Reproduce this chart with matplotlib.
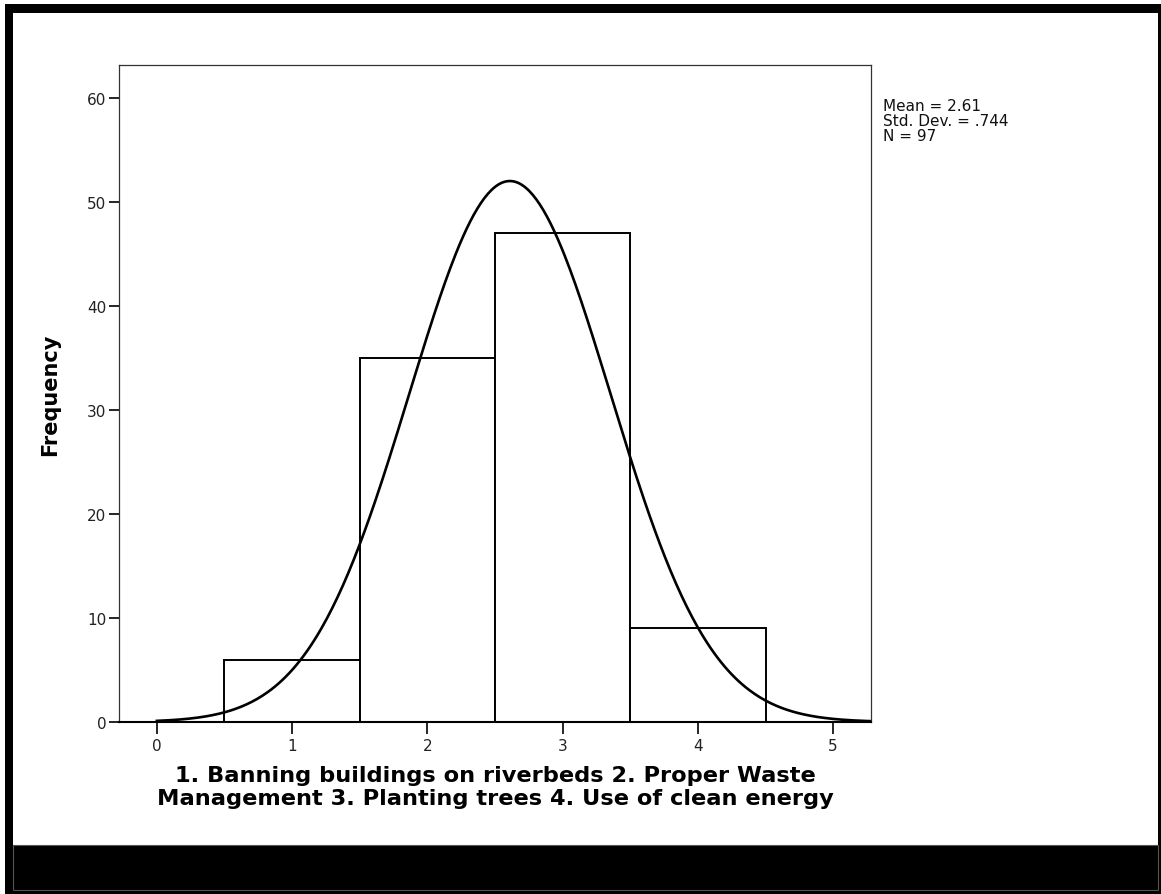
import matplotlib
matplotlib.use('Agg')
import matplotlib.pyplot as plt
import numpy as np
from matplotlib.patches import Rectangle

# histogram of answers (1..4), SPSS style with normal curve
categories = [1, 2, 3, 4]
counts = [6, 35, 47, 9]
mean_val = 2.61
std_val = 0.744
n_val = 97
x_ticks = [0, 1, 2, 3, 4, 5]
y_ticks = [0, 10, 20, 30, 40, 50, 60]
x_label = ('1. Banning buildings on riverbeds 2. Proper Waste\n'
           'Management 3. Planting trees 4. Use of clean energy')
y_label = 'Frequency'
stats_text = 'Mean = 2.61\nStd. Dev. = .744\nN = 97'

W, H = 1161, 895
fig = plt.figure(figsize=(W / 100, H / 100), dpi=100, facecolor='white')


def px_rect(x0, y0, x1, y1, **kw):
	# pixel box from the top-left corner -> figure fraction
	return Rectangle((x0 / W, 1 - y1 / H), (x1 - x0) / W, (y1 - y0) / H,
					 transform=fig.transFigure, **kw)


fig.add_artist(px_rect(5, 5, 1161, 895, facecolor='black', edgecolor='none', zorder=0))
fig.add_artist(px_rect(13, 14, 1158, 846, facecolor='white', edgecolor='none', zorder=0))
fig.add_artist(px_rect(13, 846, 1158, 891, facecolor='none', edgecolor='#555555', lw=0.8, zorder=1))

ax = fig.add_axes((119 / W, 1 - 723 / H, (871 - 119) / W, (723 - 66) / H))
ax.set_facecolor('white')

ax.bar(categories, counts, width=1.0, color='white', edgecolor='black', linewidth=1.4, zorder=2)

xs = np.linspace(0, 5.28, 400)
curve = n_val * 1.0 / (std_val * np.sqrt(2 * np.pi)) * np.exp(-0.5 * ((xs - mean_val) / std_val) ** 2)
ax.plot(xs, curve, color='black', linewidth=1.9, zorder=3)

ax.set_xlim(-0.28, 5.28)
ax.set_ylim(0, 63.17)
ax.set_xticks(x_ticks)
ax.set_yticks(y_ticks)

for side in ['left', 'right', 'top', 'bottom']:
	ax.spines[side].set_color('#333333')
	ax.spines[side].set_linewidth(0.9)
ax.spines['bottom'].set_color('black')
ax.spines['bottom'].set_linewidth(1.5)

ax.tick_params(axis='x', direction='out', length=8.5, width=1.2, pad=3,
			   labelsize=11, labelcolor='#222222')
ax.tick_params(axis='y', direction='out', length=7, width=1.2, pad=2,
			   labelsize=11, labelcolor='#222222')

ax.set_xlabel(x_label, fontsize=16.2, fontweight='bold', linespacing=1.15, va='top')
ax.xaxis.set_label_coords(0.5, -0.066)
ax.set_ylabel(y_label, fontsize=15, fontweight='bold', va='center')
ax.yaxis.set_label_coords(-0.091, 0.5)

fig.text(883 / W, 1 - 99 / H, stats_text, fontsize=11, va='top', ha='left',
		 color='#111111', linespacing=1.0)

plt.savefig('out.png', dpi=100, facecolor='white')
plt.close(fig)
